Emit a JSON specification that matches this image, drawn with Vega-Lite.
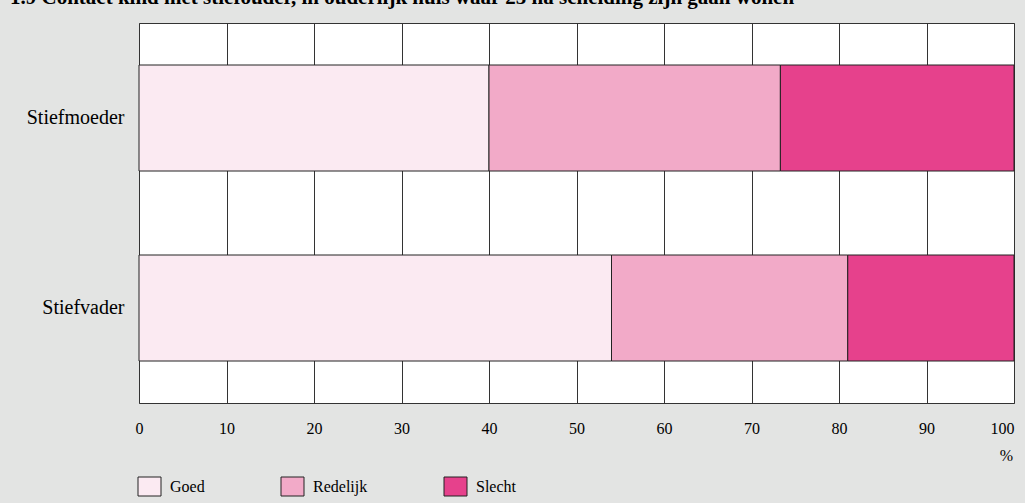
{
  "$schema": "https://vega.github.io/schema/vega-lite/v6.json",
  "autosize": {"type": "none"},
  "width": 875,
  "height": 380,
  "padding": {"left": 139, "top": 23, "right": 11, "bottom": 100},
  "background": "#e3e4e3",
  "title": {
    "text": "1.9   Contact kind met stiefouder, in ouderlijk huis waar 25 na scheiding zijn gaan wonen",
    "anchor": "start",
    "frame": "group",
    "dx": -129,
    "offset": -2,
    "font": "Liberation Serif",
    "fontSize": 21,
    "fontWeight": "bold",
    "color": "#000000",
    "baseline": "alphabetic"
  },
  "data": {
    "values": [
      {"rel": "Stiefmoeder", "cat": "Goed", "ord": 1, "pct": 40.0},
      {"rel": "Stiefmoeder", "cat": "Redelijk", "ord": 2, "pct": 33.3},
      {"rel": "Stiefmoeder", "cat": "Slecht", "ord": 3, "pct": 26.7},
      {"rel": "Stiefvader", "cat": "Goed", "ord": 1, "pct": 54.0},
      {"rel": "Stiefvader", "cat": "Redelijk", "ord": 2, "pct": 27.0},
      {"rel": "Stiefvader", "cat": "Slecht", "ord": 3, "pct": 19.0}
    ]
  },
  "mark": {"type": "bar", "size": 106, "stroke": "#222222", "strokeWidth": 1},
  "encoding": {
    "y": {
      "field": "rel",
      "type": "nominal",
      "sort": ["Stiefmoeder", "Stiefvader"],
      "scale": {"paddingInner": 0, "paddingOuter": 0},
      "axis": {
        "title": null,
        "domain": false,
        "ticks": false,
        "labelPadding": 15,
        "labelFont": "Liberation Serif",
        "labelFontSize": 20,
        "labelColor": "#000000"
      }
    },
    "x": {
      "field": "pct",
      "type": "quantitative",
      "stack": "zero",
      "scale": {"domain": [0, 100], "nice": false},
      "axis": {
        "values": [0, 10, 20, 30, 40, 50, 60, 70, 80, 90, 100],
        "title": "%",
        "titleFont": "Liberation Serif",
        "titleFontSize": 16,
        "titleFontWeight": "normal",
        "titleColor": "#000000",
        "titleX": 867,
        "titleY": 44,
        "domain": false,
        "ticks": false,
        "grid": true,
        "gridColor": "#333333",
        "gridOpacity": 1,
        "gridWidth": 1,
        "labelPadding": 17,
        "labelFont": "Liberation Serif",
        "labelFontSize": 16,
        "labelColor": "#000000",
        "labelFlush": false,
        "labelAlign": {"condition": {"test": "datum.value == 100", "value": "right"}, "value": "center"}
      }
    },
    "color": {
      "field": "cat",
      "type": "nominal",
      "sort": ["Goed", "Redelijk", "Slecht"],
      "scale": {"domain": ["Goed", "Redelijk", "Slecht"], "range": ["#fbeaf2", "#f2aac8", "#e6418c"]},
      "legend": {
        "title": null,
        "orient": "bottom",
        "direction": "horizontal",
        "offset": 13,
        "symbolType": "M-1.15,-0.95H1.15V0.95H-1.15Z",
        "symbolSize": 400,
        "symbolStrokeColor": "#222222",
        "symbolStrokeWidth": 1,
        "symbolOpacity": 1,
        "labelFont": "Liberation Serif",
        "labelFontSize": 16,
        "labelColor": "#000000",
        "labelOffset": 10,
        "columnPadding": 74
      }
    },
    "order": {"field": "ord", "type": "quantitative"}
  },
  "config": {
    "view": {"fill": "#ffffff", "stroke": "#333333", "strokeWidth": 1}
  }
}
